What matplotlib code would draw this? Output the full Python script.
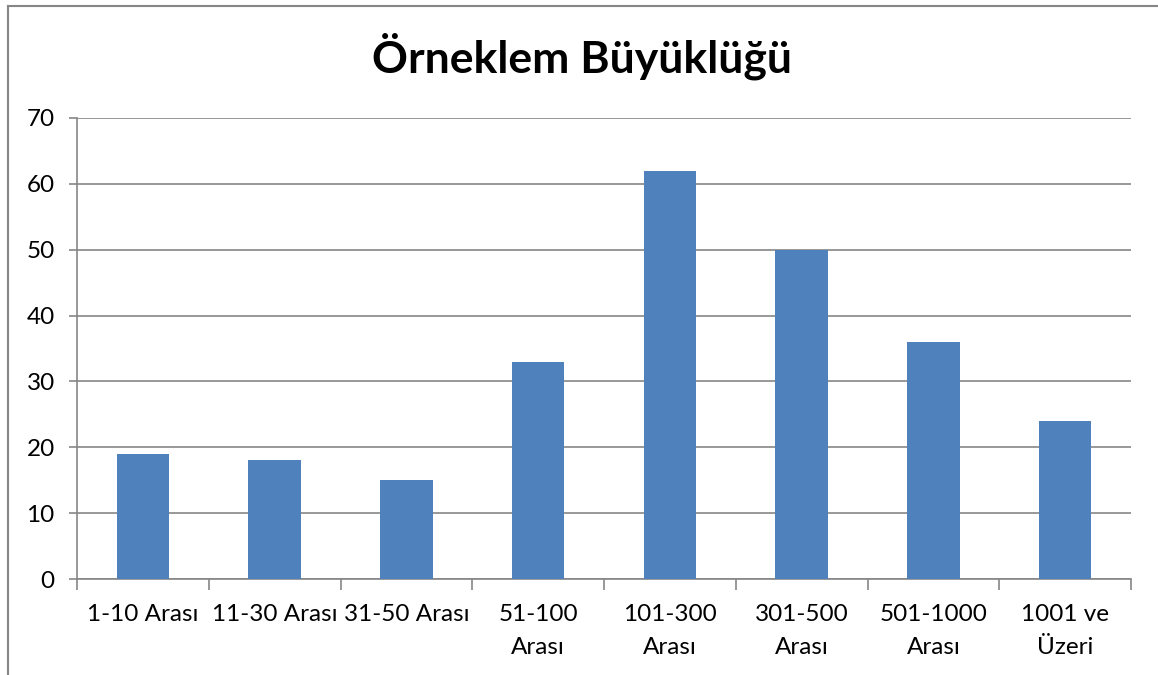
import matplotlib.pyplot as plt
from matplotlib.lines import Line2D

plt.rcParams['font.family'] = ['Lato', 'DejaVu Sans']

# Veriler
kategoriler = ["1-10 Arası", "11-30 Arası", "31-50 Arası", "51-100\nArası",
               "101-300\nArası", "301-500\nArası", "501-1000\nArası", "1001 ve\nÜzeri"]
degerler = [19, 18, 15, 33, 62, 50, 36, 24]
y_ticks = [0, 10, 20, 30, 40, 50, 60, 70]

gri = "#868686"

fig = plt.figure(figsize=(11.58, 6.75), dpi=100)
ax = fig.add_axes([77 / 1158, 1 - 579 / 675, (1131 - 77) / 1158, (579 - 118) / 675])

x = range(len(kategoriler))
ax.bar(x, degerler, width=0.4, color="#4F81BD", zorder=3)

ax.set_xlim(-0.5, len(kategoriler) - 0.5)
ax.set_ylim(0, 70)
ax.set_yticks(y_ticks)
ax.yaxis.grid(True, color=gri, linewidth=1.2, zorder=0)

# x ekseni: kategori sınırlarında çentikler
ax.set_xticks([i - 0.5 for i in range(len(kategoriler) + 1)])
ax.set_xticklabels([])
ax.set_xticks(list(x), minor=True)
ax.set_xticklabels(kategoriler, minor=True, fontsize=17.5, linespacing=1.72)
ax.tick_params(axis="x", which="minor", length=0, pad=18)
ax.tick_params(axis="x", which="major", length=8, width=1.2, color=gri)
ax.tick_params(axis="y", length=6, width=1.2, color=gri, labelsize=17.5, pad=10)

for s in ["top", "right"]:
    ax.spines[s].set_visible(False)
for s in ["left", "bottom"]:
    ax.spines[s].set_color(gri)
    ax.spines[s].set_linewidth(1.2)

fig.text(0.503, 0.916, "Örneklem Büyüklüğü", ha="center", va="center",
         fontsize=32, fontweight="bold")

# Grafik alanı çerçevesi (sol ve üst)
fig.add_artist(Line2D([8 / 1158, 8 / 1158], [0, 1 - 6 / 675], color=gri, linewidth=1.5))
fig.add_artist(Line2D([8 / 1158, 1], [1 - 6 / 675, 1 - 6 / 675], color=gri, linewidth=1.5))

fig.savefig("out.png", dpi=100)
